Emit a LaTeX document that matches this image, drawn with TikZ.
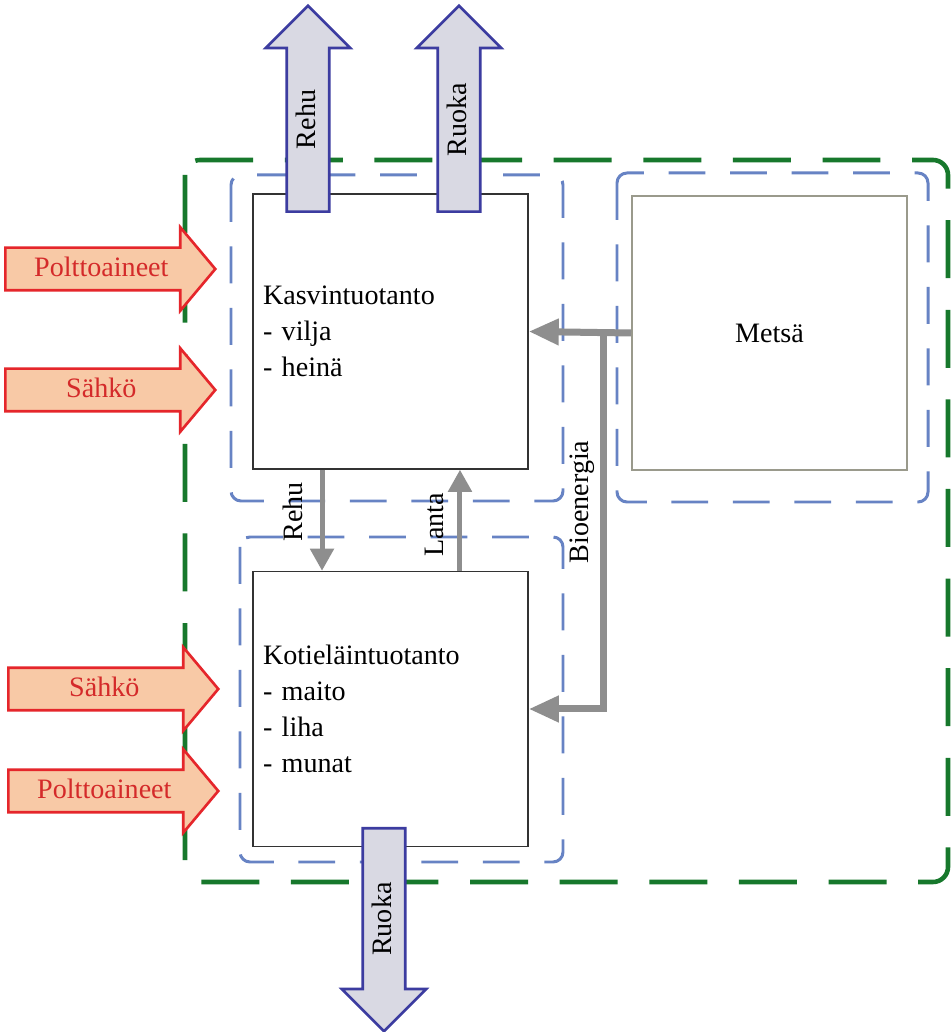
\documentclass[tikz,border=0pt]{standalone}
\usepackage{fontspec}
\setmainfont{Liberation Serif}
\usetikzlibrary{arrows.meta,shapes.arrows,calc,positioning}

\definecolor{sysgreen}{HTML}{17782C}
\definecolor{areablue}{HTML}{6783C4}
\definecolor{boxgray}{HTML}{333333}
\definecolor{forestgray}{HTML}{9A9A8C}
\definecolor{flowgray}{HTML}{8E8E8E}
\definecolor{inred}{HTML}{E5262B}
\definecolor{inpeach}{HTML}{F8C9A6}
\definecolor{inredtext}{HTML}{D42A2A}
\definecolor{outblue}{HTML}{3C3CA0}
\definecolor{outgray}{HTML}{D9D9E3}

\tikzset{
  sysline/.style={draw=sysgreen,line width=2.6pt,rounded corners=0.3cm,
    dash pattern=on 33pt off 18pt},
  arealine/.style={draw=areablue,line width=1.7pt,rounded corners=0.2cm,
    dash pattern=on 21pt off 14pt},
  prodbox/.style={draw=boxgray,line width=0.9pt,minimum width=5.5cm,
    minimum height=5.5cm,inner xsep=0.2cm,text width=5.1cm,align=left},
  flowline/.style={draw=flowgray,line width=0.1cm,
    -{Triangle[length=0.44cm,width=0.46cm]}},
  bioline/.style={draw=flowgray,line width=0.14cm},
  inarrow/.style={single arrow,draw=inred,fill=inpeach,text=inredtext,
    line width=1.5pt,minimum height=4.2cm,single arrow head extend=0.41cm,
    single arrow tip angle=100,inner ysep=0.15cm,inner xsep=0.1cm,
    text height=0.4cm,text depth=0.1cm},
  outarrow/.style={single arrow,draw=outblue,fill=outgray,rotate=90,
    line width=1.5pt,single arrow head extend=0.42cm,
    single arrow tip angle=90,inner ysep=0.15cm,inner xsep=0.1cm,
    text height=0.4cm,text depth=0.1cm},
  lbl/.style={rotate=90,inner sep=0pt,text height=0.4cm,text depth=0.1cm}
}

\begin{document}
\begin{tikzpicture}[x=0.02cm,y=0.02cm,font=\fontsize{16}{20.5}\selectfont]
\useasboundingbox (0,0) rectangle (951,1032);
\fill[white] (0,0) rectangle (951,1032);

% system and area borders
\draw[sysline] (185,872) rectangle (948,150);
\draw[arealine] (231,857) rectangle (563,531);
\draw[arealine] (617,859) rectangle (928,530);
\draw[arealine] (240,495) rectangle (563,170);

% production units
\node[prodbox] (kasvi) at (390.5,700.5) {Kasvintuotanto\\- vilja\\- heinä};
\node[prodbox] (kotiel) at (390.5,323) {Kotieläintuotanto\\- maito\\- liha\\- munat};
\node[draw=forestgray,line width=0.9pt,minimum width=5.5cm,minimum height=5.48cm] (metsa) at (769.5,699) {Metsä};

% internal flows
\draw[flowline] ([xshift=-1.37cm]kasvi.south) -- ([xshift=-1.37cm]kotiel.north);
\draw[flowline] ([xshift=1.39cm]kotiel.north) -- ([xshift=1.39cm]kasvi.south);
\coordinate (bioX) at (603,0);
\draw[bioline,-{Triangle[length=0.6cm,width=0.5cm]}] (metsa.west) -- (kasvi.east);
\draw[bioline,-{Triangle[length=0.6cm,width=0.5cm]}] (bioX |- kasvi.east) |- (kotiel.east);
\node[lbl] (rehulbl) at (295,520) {Rehu};
\node[lbl] (lantalbl) at (436,507) {Lanta};
\node[lbl] (biolbl) at (581,530) {Bioenergia};

% inputs
\node[inarrow,anchor=tip] (poltto1) at (217,763) {Polttoaineet};
\node[inarrow,anchor=tip] (sahko1) at (217,642) {Sähkö};
\node[inarrow,anchor=tip] (sahko2) at (220,343) {Sähkö};
\node[inarrow,anchor=tip] (poltto2) at (220,241) {Polttoaineet};

% outputs
\node[outarrow,minimum height=4.12cm,anchor=tail] (rehuout) at (308,819) {Rehu};
\node[outarrow,minimum height=4.12cm,anchor=tail] (ruokaout) at (459,819) {Ruoka};
\node[outarrow,minimum height=4.06cm,shape border rotate=180,anchor=tail] (ruokadown) at (384,205) {Ruoka};
\end{tikzpicture}
\end{document}
